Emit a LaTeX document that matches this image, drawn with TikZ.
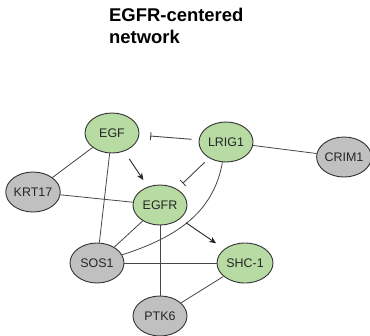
\documentclass[tikz,border=0pt]{standalone}
\usepackage{fontspec}
\setmainfont{Liberation Sans}
\usetikzlibrary{arrows.meta,shapes.geometric}
\definecolor{protgreen}{RGB}{184,219,163}
\definecolor{protgray}{RGB}{192,192,192}
\definecolor{edgegray}{RGB}{70,70,70}

\begin{document}
\begin{tikzpicture}[x=1bp, y=1bp,
    prot/.style={ellipse, draw=black!80, line width=0.9bp, minimum width=54bp,
      minimum height=40bp, inner sep=0pt, text=black!85,
      font=\fontsize{12.5}{14}\selectfont},
    greenprot/.style={prot, fill=protgreen},
    grayprot/.style={prot, fill=protgray},
    link/.style={-, edgegray, line width=0.8bp},
    activ/.style={-{Stealth[length=7bp,width=6bp]}, black!85, line width=0.9bp},
    inhib/.style={-{Bar[width=8bp]}, edgegray, line width=0.9bp}]
    \useasboundingbox (0,0) rectangle (370,-336);

    % title
    \node[anchor=base west, inner sep=0pt, align=left,
      font=\fontsize{18.5}{22.5}\selectfont\bfseries] (title) at (109,-43.5)
      {EGFR-centered\\network};

    % proteins
    \node[greenprot] (EGF) at (112,-133) {EGF};
    \node[greenprot] (LRIG1) at (226,-142) {LRIG1};
    \node[grayprot, minimum width=52bp] (CRIM1) at (344,-157) {CRIM1};
    \node[grayprot] (KRT17) at (33,-192) {KRT17};
    \node[greenprot] (EGFR) at (160,-205) {EGFR};
    \node[grayprot] (SOS1) at (97,-263) {SOS1};
    \node[greenprot, minimum width=56bp] (SHC1) at (245,-263) {SHC-1};
    \node[grayprot] (PTK6) at (160,-316) {PTK6};

    % plain links
    \draw[link] (EGF) -- (KRT17);
    \draw[link] (EGF) -- (SOS1);
    \draw[link] (LRIG1) -- (CRIM1);
    \draw[link] (KRT17) -- (EGFR);
    \draw[link] (EGFR) -- (SOS1);
    \draw[link] (EGFR) -- (PTK6);
    \draw[link] (SOS1) -- (SHC1);
    \draw[link] (SHC1) -- (PTK6);
    \draw[link] (LRIG1) to[out=-100, in=18] (SOS1);

    % activation and inhibition
    \draw[activ, shorten <=9bp, shorten >=8bp] (EGF) -- (EGFR);
    \draw[activ, shorten <=7bp, shorten >=10bp] (EGFR) -- (SHC1);
    \draw[inhib, shorten <=7bp, shorten >=11bp] (LRIG1) -- (EGF);
    \draw[inhib, shorten <=6bp, shorten >=8bp] (LRIG1) -- (EGFR);
\end{tikzpicture}
\end{document}
